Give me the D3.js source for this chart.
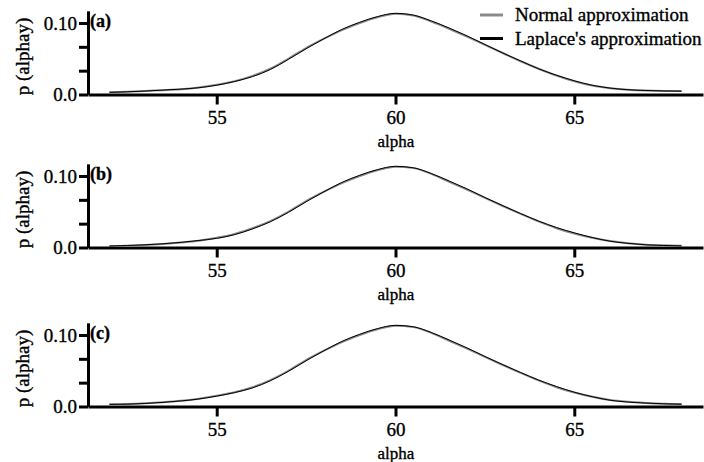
<!DOCTYPE html>
<html>
<head>
<meta charset="utf-8">
<script src="https://cdn.jsdelivr.net/npm/d3@7"></script>
<style>
  html, body { margin: 0; padding: 0; background: #fff; }
  svg { display: block; font-family: "Liberation Serif", "Times New Roman", "DejaVu Serif", serif; }
  svg text { font-family: "Liberation Serif", "Times New Roman", "DejaVu Serif", serif; fill: #000; stroke: #000; stroke-width: 0.35px; }
</style>
</head>
<body>
<svg id="chart" width="704" height="462"></svg>
<script>
// ---- data ----
const alpha = [52, 52.5, 53, 53.5, 54, 54.5, 55, 55.5, 56, 56.5, 57, 57.5, 58, 58.5, 59, 59.5,
               60, 60.5, 61, 61.5, 62, 62.5, 63, 63.5, 64, 64.5, 65, 65.5, 66, 66.5, 67, 67.5, 68];

const normalA  = [0.003, 0.004, 0.005, 0.006, 0.0073, 0.0097, 0.0135, 0.0185, 0.026, 0.036, 0.050, 0.065, 0.078, 0.090, 0.100, 0.108,
                  0.113, 0.1105, 0.102, 0.092, 0.081, 0.0695, 0.058, 0.0465, 0.036, 0.0265, 0.0185, 0.0125, 0.0088, 0.0066, 0.0055, 0.005, 0.0048];
const laplaceA = [0.003, 0.0038, 0.0048, 0.0062, 0.0075, 0.0095, 0.0130, 0.0182, 0.025, 0.035, 0.049, 0.064, 0.078, 0.091, 0.101, 0.109,
                  0.1135, 0.111, 0.103, 0.093, 0.082, 0.070, 0.058, 0.047, 0.036, 0.027, 0.0192, 0.013, 0.009, 0.0067, 0.0056, 0.005, 0.0046];

const normalB  = [0.002, 0.0025, 0.0035, 0.005, 0.007, 0.0095, 0.0135, 0.019, 0.027, 0.037, 0.050, 0.065, 0.078, 0.090, 0.100, 0.108,
                  0.113, 0.111, 0.103, 0.092, 0.081, 0.0695, 0.058, 0.047, 0.0365, 0.027, 0.0195, 0.0135, 0.009, 0.006, 0.004, 0.003, 0.0025];
const laplaceB = [0.002, 0.0028, 0.0038, 0.0052, 0.0072, 0.0098, 0.0128, 0.018, 0.026, 0.036, 0.049, 0.064, 0.078, 0.091, 0.101, 0.109,
                  0.1135, 0.1115, 0.1035, 0.093, 0.082, 0.070, 0.0585, 0.0475, 0.037, 0.028, 0.0205, 0.014, 0.0088, 0.0058, 0.0038, 0.0028, 0.0022];

const normalC  = [0.003, 0.0035, 0.0045, 0.006, 0.008, 0.011, 0.015, 0.020, 0.027, 0.037, 0.050, 0.065, 0.078, 0.090, 0.100, 0.108,
                  0.113, 0.111, 0.103, 0.092, 0.081, 0.0695, 0.058, 0.047, 0.0365, 0.027, 0.0195, 0.0135, 0.009, 0.0065, 0.005, 0.004, 0.0035];
const laplaceC = [0.003, 0.0033, 0.0042, 0.0058, 0.0078, 0.0105, 0.0145, 0.0195, 0.026, 0.036, 0.049, 0.064, 0.078, 0.091, 0.101, 0.109,
                  0.1135, 0.1115, 0.1035, 0.093, 0.082, 0.070, 0.0585, 0.0475, 0.037, 0.028, 0.020, 0.0138, 0.0088, 0.0062, 0.0048, 0.0038, 0.0032];

const panelLabels = ["(a)", "(b)", "(c)"];
const seriesNames = ["Normal approximation", "Laplace's approximation"];
const xTicks = [55, 60, 65];
const yTicks = [0, 0.1 / 3, 0.2 / 3, 0.1];
const yTickLabels = {0: "0.0", 0.1: "0.10"};

const panelData = [
  [normalA, laplaceA],
  [normalB, laplaceB],
  [normalC, laplaceC]
];

// ---- layout ----
const FONT = '"Liberation Serif", "Times New Roman", "DejaVu Serif", serif';
const svg = d3.select("#chart");
const panelBase = [94.5, 247.5, 406.5];
const pxPerTenth = 71.5;
const yMax = 0.117;
const colors = ["#8a8a8a", "#000"];
const widths = [2, 1];

const x = d3.scaleLinear().domain([51.4, 68.6]).range([88, 703]);

panelData.forEach((series, i) => {
  const y0 = panelBase[i];
  const y = d3.scaleLinear().domain([0, yMax]).range([y0, y0 - pxPerTenth * yMax / 0.1]);
  const g = svg.append("g");

  // x axis
  const xa = g.append("g").attr("transform", `translate(0,${y0})`)
    .call(d3.axisBottom(x).tickValues(xTicks).tickSize(10).tickSizeOuter(0).tickPadding(6).tickFormat(d3.format("d")));
  xa.attr("font-family", FONT);
  xa.select(".domain").attr("stroke", "#000").attr("stroke-width", 3);
  xa.selectAll(".tick line").attr("stroke", "#000").attr("stroke-width", 3);
  xa.selectAll(".tick text").attr("font-size", 19).attr("fill", "#000");

  // y axis
  const ya = g.append("g").attr("transform", `translate(88,0)`)
    .call(d3.axisLeft(y).tickValues(yTicks).tickSize(9).tickSizeOuter(0).tickPadding(2)
      .tickFormat(d => yTickLabels[Math.round(d * 1000) / 1000] || ""));
  ya.attr("font-family", FONT);
  ya.select(".domain").attr("stroke", "#000").attr("stroke-width", 3);
  ya.selectAll(".tick line").attr("stroke", "#000").attr("stroke-width", 3);
  ya.selectAll(".tick text").attr("font-size", 19).attr("fill", "#000");

  // titles
  g.append("text").attr("x", 396).attr("y", y0 + 52).attr("text-anchor", "middle")
    .attr("font-size", 17).text("alpha");
  g.append("text").attr("transform", `translate(29,${y0 - 38}) rotate(-90)`).attr("text-anchor", "middle")
    .attr("font-size", 19).text("p (alphay)");
  g.append("text").attr("x", 90).attr("y", y(0.1) + 4).attr("font-size", 18).attr("font-weight", "bold")
    .text(panelLabels[i]);

  // curves
  series.forEach((vals, k) => {
    const line = d3.line().x((d, j) => x(alpha[j])).y(d => y(d)).curve(d3.curveMonotoneX);
    g.append("path").datum(vals).attr("d", line).attr("fill", "none")
      .attr("stroke", colors[k]).attr("stroke-width", widths[k]);
  });

  // legend in first panel
  if (i === 0) {
    const leg = g.append("g");
    [15, 38.5].forEach((ly, k) => {
      leg.append("line").attr("x1", 480).attr("x2", 503).attr("y1", ly).attr("y2", ly)
        .attr("stroke", colors[k]).attr("stroke-width", 3);
      leg.append("text").attr("x", 515).attr("y", ly + 6).attr("font-size", 19).text(seriesNames[k]);
    });
  }
});
</script>
</body>
</html>
